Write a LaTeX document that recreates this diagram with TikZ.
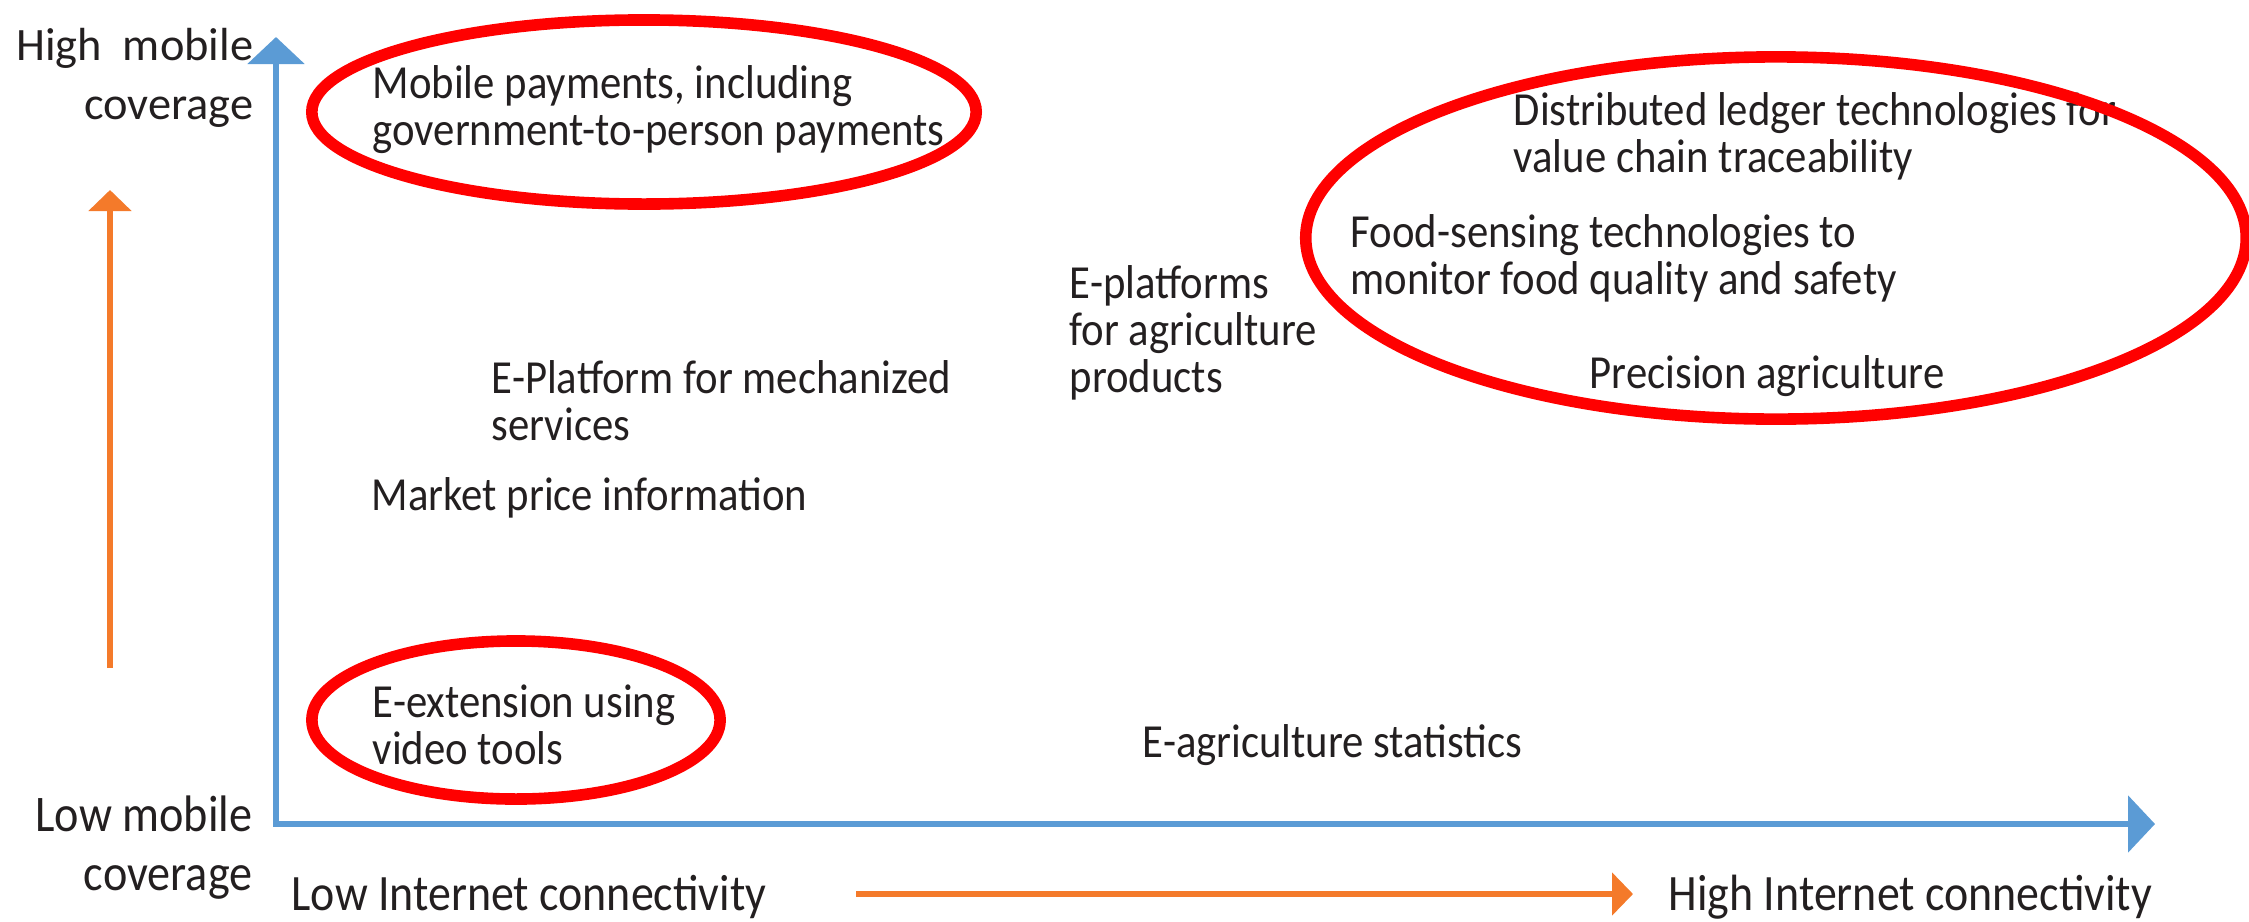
\documentclass[tikz,border=0pt]{standalone}
\usepackage{fontspec}
\setmainfont{Carlito}[FakeStretch=0.9]
\newfontfamily\plainfont{Carlito}
\usetikzlibrary{positioning, arrows.meta}

\definecolor{axisblue}{HTML}{5B9BD5}
\definecolor{trendorange}{HTML}{F47A2A}
\definecolor{ringred}{HTML}{FF0000}
\definecolor{inkgray}{HTML}{231F20}

\tikzset{
  item/.style={anchor=west, align=left, inner sep=0pt, text=inkgray,
    font=\fontsize{13.5}{13.4}\selectfont},
  axislabel/.style={anchor=east, align=right, inner sep=0pt, text=inkgray,
    font=\fontsize{14.6}{16.8}\selectfont},
  axis/.style={draw=axisblue, line width=1.7pt,
    {Triangle[length=0.27cm,width=0.56cm]}-{Triangle[length=0.27cm,width=0.56cm]}},
  trend/.style={draw=trendorange, line width=1.7pt,
    -{Triangle[length=0.21cm,width=0.42cm]}},
  ring/.style={draw=ringred, line width=3.3pt},
}

\begin{document}
\begin{tikzpicture}[x=0.01cm, y=-0.01cm]
  \useasboundingbox (0,0) rectangle (2249,921);
  % axes
  \coordinate (origin) at (276,824);
  \coordinate (ytip) at (276,37);
  \coordinate (xtip) at (2155,824);
  \draw[axis] (ytip) -- (origin) -- (xtip);

  % axis labels
  \node[axislabel, font=\plainfont\fontsize{13.2}{16.8}\selectfont] (highmob) at (254,78) {High\ \ mobile\\coverage};
  \node[axislabel] (lowmob) at (253,848) {Low mobile\\coverage};
  \node[item, font=\fontsize{14.5}{15}\selectfont] (lowint) at (291,897) {Low Internet connectivity};
  \node[item, font=\fontsize{14.5}{15}\selectfont] (highint) at (1668,897) {High Internet connectivity};

  % trend arrows
  \coordinate (mobstart) at (110,668);
  \coordinate (mobend) at (110,190);
  \coordinate (netstart) at (856,894);
  \coordinate (netend) at (1633,894);
  \draw[trend] (mobstart) -- (mobend);
  \draw[trend] (netstart) -- (netend);

  % services
  \node[item] (mobpay) at (372,110) {Mobile payments, including\\government-to-person payments};
  \node[item] (ledger) at (1513,136) {Distributed ledger technologies for\\value chain traceability};
  \node[item] (foodsense) at (1350,258) {Food-sensing technologies to\\monitor food quality and safety};
  \node[item] (precision) at (1589,376) {Precision agriculture};
  \node[item] (eplat) at (1069,333) {E-platforms\\for agriculture\\products};
  \node[item] (mech) at (491,401) {E-Platform for mechanized\\services};
  \node[item] (market) at (371,498) {Market price information};
  \node[item] (eext) at (372,725) {E-extension using\\video tools};
  \node[item] (estat) at (1142,745) {E-agriculture statistics};

  % highlights
  \draw[ring] (644,112) ellipse [x radius=3.32cm, y radius=0.92cm];
  \draw[ring] (1776,238) ellipse [x radius=4.70cm, y radius=1.81cm];
  \draw[ring] (516,720) ellipse [x radius=2.04cm, y radius=0.79cm];
\end{tikzpicture}
\end{document}
